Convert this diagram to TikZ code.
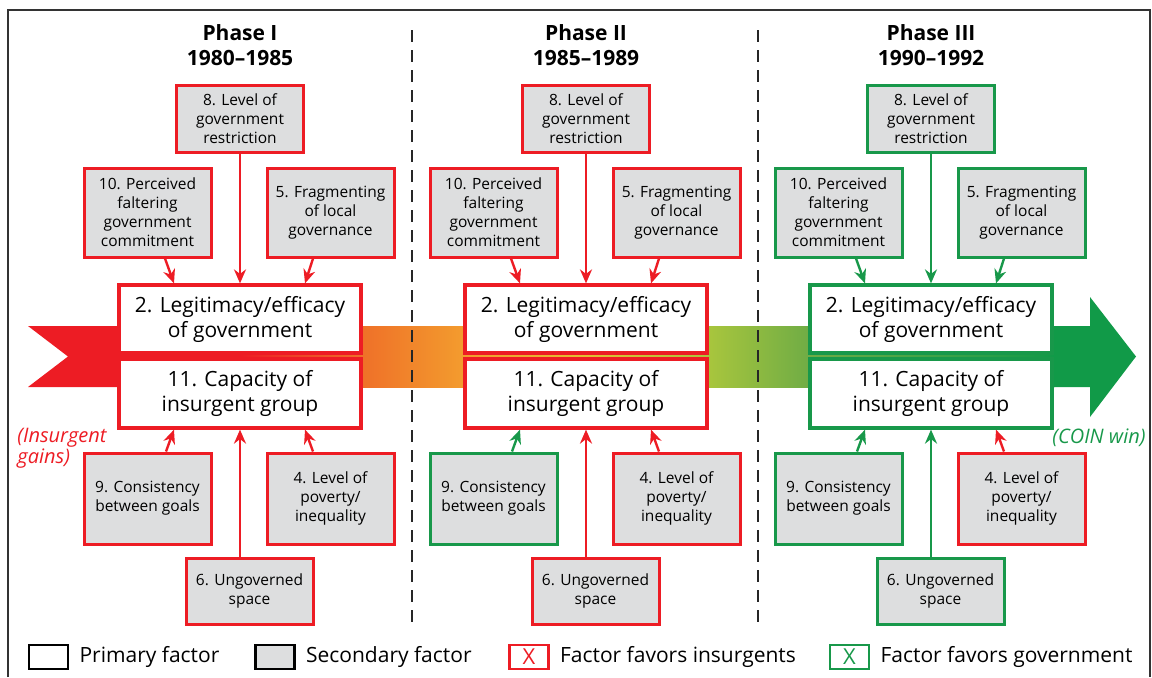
\documentclass[tikz,border=0pt]{standalone}
\usepackage{fontspec}
\setmainfont{Open Sans}
\usetikzlibrary{arrows.meta,calc,positioning}
\definecolor{ired}{RGB}{237,28,36}
\definecolor{igreen}{RGB}{24,152,74}
\definecolor{boxgray}{RGB}{221,222,223}
\definecolor{bandA}{RGB}{239,112,40}
\definecolor{bandB}{RGB}{243,156,46}
\definecolor{bandC}{RGB}{226,192,50}
\definecolor{bandD}{RGB}{169,198,61}
\definecolor{bandE}{RGB}{111,172,69}
\definecolor{bandF}{RGB}{17,154,72}
\begin{document}
\begin{tikzpicture}[x=0.5pt,y=-0.5pt,
  factor/.style={draw=#1,line width=1.5pt,fill=boxgray,align=center,inner sep=1pt,
    minimum width=63.5pt,font=\fontsize{7.75}{9.5}\selectfont},
  primary/.style={draw=#1,line width=1.6pt,fill=white,align=center,inner sep=1pt,
    minimum width=121pt,minimum height=34pt,font=\fontsize{10.5}{12.5}\selectfont},
  link/.style={draw=#1,line width=1.2pt,-{Stealth[length=7pt,width=6pt]}},
  divider/.style={black!85,line width=1.2pt,dash pattern=on 6pt off 4pt},
  keybox/.style={draw=#1,line width=1.2pt,minimum width=19.5pt,minimum height=12pt,inner sep=0pt},
  keytext/.style={right=5pt of #1,inner sep=0pt,font=\fontsize{10.5}{12}\selectfont}]
\useasboundingbox (0,0) rectangle (1152,677);
% frame
\draw[black!80,line width=0.75pt] (8,677) -- (8,10) -- (1150,10) -- (1150,677);
% band
\fill[ired] (28,326) -- (241,326) -- (241,387) -- (28,387) -- (68,356.5) -- cycle;
\shade[left color=ired,right color=bandA] (240,326) rectangle (362,387);
\shade[left color=bandA,right color=bandB] (361,326) rectangle (464,387);
\shade[left color=bandB,right color=bandC] (463,326) rectangle (587,387);
\shade[left color=bandC,right color=bandD] (586,326) rectangle (708,387);
\shade[left color=bandD,right color=bandE] (707,326) rectangle (810,387);
\shade[left color=bandE,right color=bandF] (809,326) rectangle (1054,387);
\fill[bandF] (1053,326) -- (1090,326) -- (1090,297) -- (1136,356.5) -- (1090,417)
  -- (1090,387) -- (1053,387) -- cycle;
% phase dividers
\draw[divider] (412,30) -- (412,622);
\draw[divider] (758,30) -- (758,622);
% phases
\foreach \p/\dx/\ph/\years/\ca/\cb/\cc in {1/0/I/1980--1985/ired/ired/ired,
    2/346/II/1985--1989/ired/igreen/ired,3/691/III/1990--1992/igreen/igreen/ired}{
  \node[align=center,font=\bfseries\fontsize{10.5}{12.5}\selectfont] (t-\p) at ({240+\dx},45)
    {Phase \ph\\\years};
  \node[factor=\ca,minimum height=33.5pt] (f8-\p) at ({240+\dx},118.5)
    {8. Level of\\government\\restriction};
  \node[factor=\ca,minimum height=44.5pt] (f10-\p) at ({147.5+\dx},212.5)
    {10. Perceived\\faltering\\government\\commitment};
  \node[factor=\ca,minimum height=44.5pt] (f5-\p) at ({330.5+\dx},212.5)
    {5. Fragmenting\\of local\\governance};
  \node[primary=\ca] (f2-\p) at ({240+\dx},319) {2. Legitimacy/efficacy\\of government};
  \node[primary=\ca,minimum height=34.5pt] (f11-\p) at ({240+\dx},393.5)
    {11. Capacity of\\insurgent group};
  \node[factor=\cb,minimum height=45.5pt] (f9-\p) at ({147.5+\dx},498.5)
    {9. Consistency\\between goals};
  \node[factor=\cc,minimum height=45.5pt] (f4-\p) at ({330.5+\dx},498.5)
    {4. Level of\\poverty/\\inequality};
  \node[factor=\ca,minimum height=33pt] (f6-\p) at ({249.5+\dx},591)
    {6. Ungoverned\\space};
  \draw[link=\ca] (f8-\p.south) -- (f2-\p.north);
  \draw[link=\ca] ($(f10-\p.south)+(17.5,0)$) -- ($(f2-\p.north)+(-66,0)$);
  \draw[link=\ca] ($(f5-\p.south)+(-17.5,0)$) -- ($(f2-\p.north)+(65,0)$);
  \draw[link=\cb] ($(f9-\p.north)+(18.5,0)$) -- ($(f11-\p.south)+(-66,0)$);
  \draw[link=\cc] ($(f4-\p.north)+(-17.5,0)$) -- ($(f11-\p.south)+(65,0)$);
  \draw[link=\ca] ($(f6-\p.north)+(-9.5,0)$) -- (f11-\p.south);
}
% outcome labels
\node[anchor=north west,align=left,text=ired,inner sep=0pt,
  font=\itshape\fontsize{10}{10.5}\selectfont] (gains) at (17,428) {(Insurgent\\gains)};
\node[anchor=north west,text=igreen,inner sep=0pt,
  font=\itshape\fontsize{10}{10.5}\selectfont] (win) at (1052,428) {(COIN win)};
% legend
\node[keybox=black,fill=white] (k1) at (48.5,657) {};
\node[keytext=k1] (k1t) {Primary factor};
\node[keybox=black,fill=boxgray] (k2) at (275,657) {};
\node[keytext=k2] (k2t) {Secondary factor};
\node[keybox=ired,text=ired,font=\fontsize{11}{13}\selectfont] (k3) at (529,657) {X};
\node[keytext=k3] (k3t) {Factor favors insurgents};
\node[keybox=igreen,text=igreen,font=\fontsize{11}{13}\selectfont] (k4) at (849.5,657) {X};
\node[keytext=k4] (k4t) {Factor favors government};
\end{tikzpicture}
\end{document}
